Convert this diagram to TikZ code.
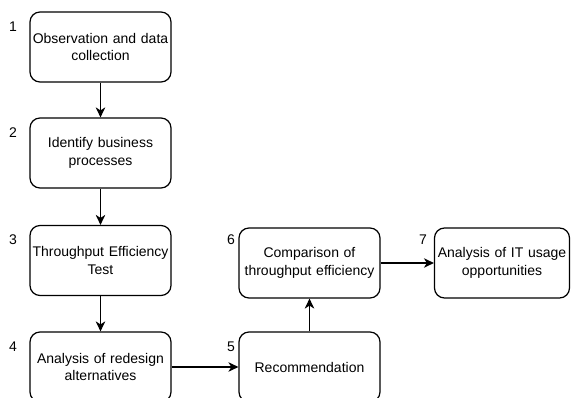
\documentclass[tikz,border=0pt]{standalone}
\usepackage{fontspec}
\setmainfont{Liberation Sans}
\usetikzlibrary{arrows.meta}
\begin{document}
\begin{tikzpicture}[x=1pt,y=-1pt,
  stepbox/.style={draw, line width=1.2pt, rounded corners=10pt, minimum width=141pt, minimum height=70pt, align=center, inner sep=2pt, font=\fontsize{14}{17.3}\selectfont, text width=137pt},
  numlabel/.style={font=\fontsize{14}{16}\selectfont},
  conn/.style={draw, line width=1.2pt, -{Stealth[length=10pt,width=9.5pt,inset=3pt]}}]
\useasboundingbox (0,0) rectangle (571,398);
\begin{scope}
\clip (0,0) rectangle (571,398);
\node[stepbox] (s1) at (100.5,47) {Observation and data\\collection};
\node[stepbox] (s2) at (100.5,153) {Identify business\\processes};
\node[stepbox] (s3) at (100.5,260.5) {Throughput Efficiency\\Test};
\node[stepbox] (s4) at (100.5,367) {Analysis of redesign\\alternatives};
\node[stepbox] (s5) at (309.5,367) {Recommendation};
\node[stepbox] (s6) at (309.5,263) {Comparison of\\throughput efficiency};
\node[stepbox, minimum width=135pt, text width=131pt] (s7) at (502,263) {Analysis of IT usage\\opportunities};
\end{scope}
\node[numlabel] (n1) at (13,27) {1};
\node[numlabel] (n2) at (13,133) {2};
\node[numlabel] (n3) at (13,240) {3};
\node[numlabel] (n4) at (13,347) {4};
\node[numlabel] (n5) at (231,347) {5};
\node[numlabel] (n6) at (231,240) {6};
\node[numlabel] (n7) at (423,240) {7};
\draw[conn] (s1) -- (s2);
\draw[conn] (s2) -- (s3);
\draw[conn] (s3) -- (s4);
\draw[conn] (s4) -- (s5);
\draw[conn] (s5) -- (s6);
\draw[conn] (s6) -- (s7);
\end{tikzpicture}
\end{document}
